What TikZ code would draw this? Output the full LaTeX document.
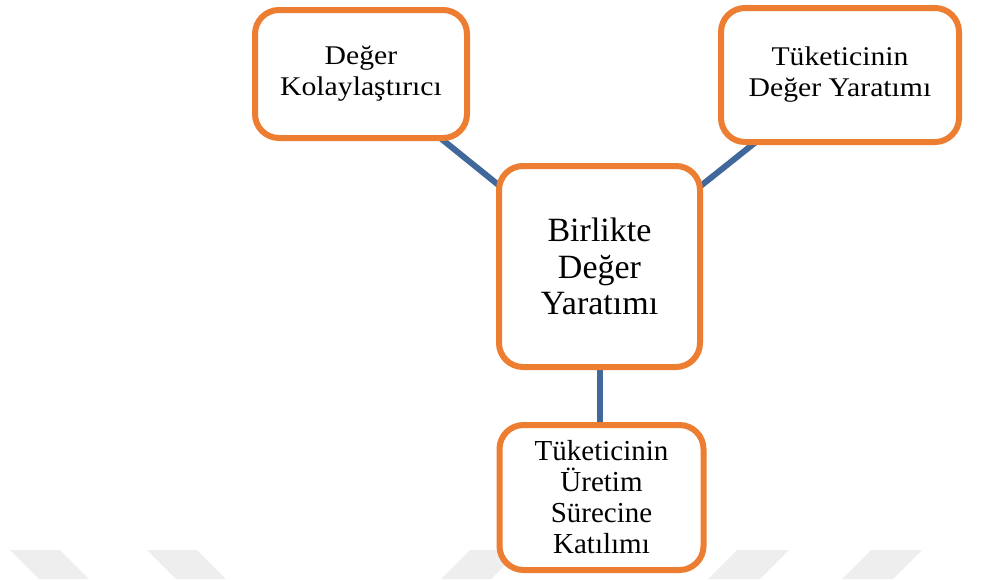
\documentclass[tikz,border=0pt]{standalone}
\usepackage{fontspec}
\setmainfont{Liberation Serif}
\newfontfamily\widefont[FakeStretch=1.1]{Liberation Serif}
\usetikzlibrary{backgrounds}
\definecolor{boxorange}{HTML}{ED7D31}
\definecolor{connblue}{HTML}{41689A}
\definecolor{wmgray}{HTML}{EEEEEE}
\tikzset{
  box/.style={draw=boxorange, line width=6pt, fill=white, rounded corners=24pt,
    align=center, inner sep=0pt},
  widetext/.style={font=\widefont\fontsize{27}{31}\selectfont},
  talltext/.style={font=\fontsize{29}{31}\selectfont},
  bigtext/.style={font=\fontsize{34}{36.5}\selectfont},
  conn/.style={draw=connblue, line width=6pt},
  wm/.style={fill=wmgray, draw=none}
}
\begin{document}
\begin{tikzpicture}[x=1pt, y=-1pt]
\useasboundingbox (0,0) rectangle (985,579);
% faint watermark stripes
\fill[wm] (10,550) -- (60,550) -- (89,579) -- (39,579) -- cycle;
\fill[wm] (147,550) -- (197,550) -- (226,579) -- (176,579) -- cycle;
\fill[wm] (470,550) -- (520,550) -- (491,579) -- (441,579) -- cycle;
\fill[wm] (737,550) -- (789,550) -- (760,579) -- (708,579) -- cycle;
\fill[wm] (871,550) -- (922,550) -- (893,579) -- (842,579) -- cycle;

\node[box, widetext, minimum width=212pt, minimum height=128pt] (tl) at (361,74) {Değer\\Kolaylaştırıcı};
\node[box, widetext, minimum width=238pt, minimum height=134pt] (tr) at (840,75) {Tüketicinin\\Değer Yaratımı};
\node[box, bigtext, minimum width=201pt, minimum height=201pt] (c) at (599.5,266.5) {Birlikte\\Değer\\Yaratımı};
\node[box, talltext, minimum width=204pt, minimum height=145pt] (b) at (601.5,497.5) {Tüketicinin\\Üretim\\Sürecine\\Katılımı};

\begin{scope}[on background layer]
\draw[conn] (tl.center) -- (c.center);
\draw[conn] (tr.center) -- (c.center);
\draw[conn] (c.center) -- (c.center |- b.center);
\end{scope}
\end{tikzpicture}
\end{document}
